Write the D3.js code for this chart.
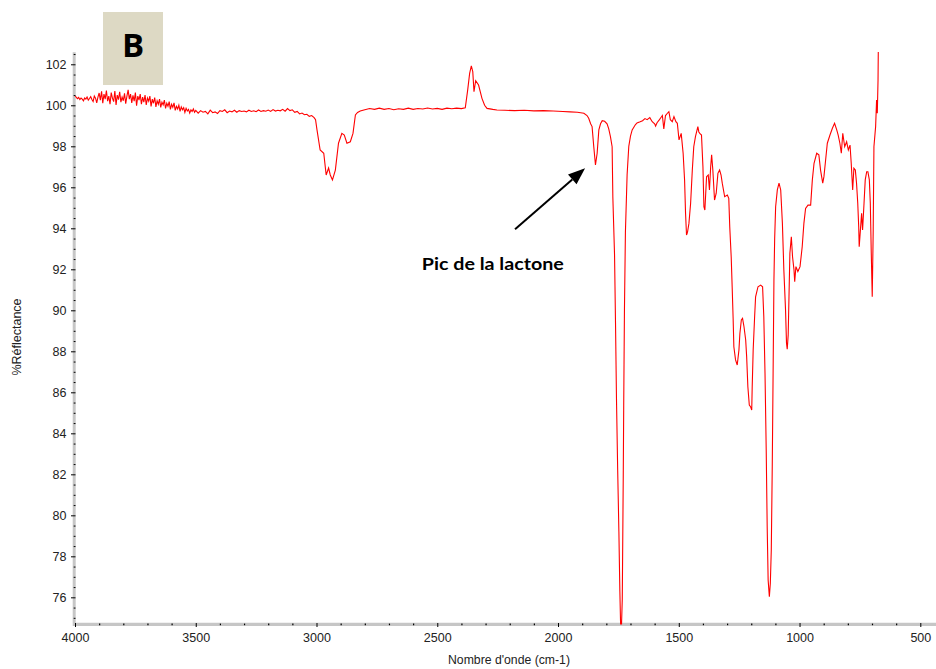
<!DOCTYPE html>
<html><head><meta charset="utf-8">
<script src="https://cdn.jsdelivr.net/npm/d3@7"></script>
<style>body{margin:0;background:#fff}svg{display:block}</style>
</head><body>
<svg id="chart" width="936" height="669"></svg>
<script>
// ---- DATA ----
const xMajorTicks = [4000, 3500, 3000, 2500, 2000, 1500, 1000, 500];
const yMajorTicks = [76, 78, 80, 82, 84, 86, 88, 90, 92, 94, 96, 98, 100, 102];

// [wavenumber (cm-1), %Réflectance]
const noisyRegion = [
  [4000,100.45],[3995,100.40],[3990,100.32],[3985,100.38],[3980,100.28],[3975,100.35],
  [3970,100.30],[3965,100.22],[3960,100.36],[3955,100.30],[3950,100.40],[3945,100.25],
  [3940,100.33],[3935,100.42],[3930,100.28],[3925,100.18],[3920,100.45],[3915,100.35],
  [3910,100.12],[3905,100.40],[3900,100.60],[3895,100.25],[3890,100.68],[3885,100.10],
  [3880,100.55],[3875,100.30],[3870,100.72],[3865,100.20],[3860,100.45],[3855,100.05],
  [3850,100.62],[3845,100.35],[3840,100.18],[3835,100.70],[3830,100.02],[3825,100.50],
  [3820,100.28],[3815,100.66],[3810,100.15],[3805,100.40],[3800,100.22],[3795,100.58],
  [3790,100.08],[3785,100.45],[3780,100.75],[3775,100.30],[3770,100.55],[3765,100.12],
  [3760,100.48],[3755,100.20],[3750,100.62],[3745,99.98],[3740,100.45],[3735,100.25],
  [3730,100.55],[3725,100.05],[3720,100.40],[3715,100.15],[3710,100.50],[3705,100.02],
  [3700,100.35],[3695,100.20],[3690,100.45],[3685,99.95],[3680,100.30],[3675,100.10],
  [3670,100.38],[3665,99.92],[3660,100.22],[3655,100.05],[3650,100.30],[3645,99.90],
  [3640,100.15],[3635,100.02],[3630,100.25],[3625,99.85],[3620,100.10],[3615,99.95],
  [3610,100.18],[3605,99.80],[3600,100.05],[3595,99.90],[3590,100.12],[3585,99.75],
  [3580,99.95],[3575,99.82],[3570,100.00],[3565,99.70],[3560,99.92],[3555,99.78],
  [3550,99.88],[3545,99.65],[3540,99.85],[3535,99.72],[3530,99.80],[3525,99.62],
  [3520,99.78],[3515,99.70],[3510,99.82],[3505,99.66],[3500,99.75],
  [3490,99.62],[3480,99.74],[3470,99.66],[3460,99.70],[3450,99.58],[3440,99.76],
  [3430,99.64],[3420,99.68],[3410,99.60],[3400,99.74],[3390,99.70],[3380,99.78],
  [3370,99.64],[3360,99.72],[3350,99.68],[3340,99.76],[3330,99.66],[3320,99.74],
  [3310,99.70],[3300,99.72],[3290,99.68],[3280,99.76],[3270,99.70],[3260,99.73],
  [3250,99.69],[3240,99.77],[3230,99.70],[3220,99.74],[3210,99.71],[3200,99.77],
  [3190,99.70],[3180,99.79],[3170,99.72],[3160,99.76],[3150,99.73],[3140,99.80],
  [3130,99.71],[3120,99.84],[3110,99.74],[3100,99.78],[3090,99.66],[3080,99.70],
  [3070,99.58],[3060,99.62],[3050,99.54],[3040,99.56],[3030,99.46],[3020,99.50],
  [3010,99.40]
];
const chRegion = [
  [3004,99.30],[2998,98.80],[2985,97.82],[2970,97.66],[2960,96.60],[2950,96.94],
  [2943,96.60],[2934,96.36],[2922,96.84],[2909,98.15],[2895,98.63],[2885,98.55],
  [2874,98.15],[2860,98.22],[2849,98.63],[2839,99.53],[2830,99.65],[2819,99.72]
];
const co2Region = [
  [2800,99.78],[2780,99.84],[2760,99.80],[2740,99.86],[2720,99.80],[2700,99.84],
  [2680,99.78],[2660,99.83],[2640,99.80],[2620,99.86],[2600,99.80],[2580,99.84],
  [2560,99.82],[2540,99.87],[2520,99.82],[2500,99.85],[2480,99.80],[2460,99.86],
  [2440,99.83],[2420,99.86],[2400,99.84],[2384,99.88],[2374,100.75],[2366,101.56],
  [2359,101.92],[2353,101.64],[2348,100.66],[2341,101.20],[2329,100.99],[2315,100.34],
  [2304,100.00],[2294,99.85],[2270,99.80],[2253,99.77],[2220,99.76],[2180,99.74],
  [2140,99.76],[2100,99.73],[2060,99.74],[2020,99.72],[1980,99.70],[1950,99.68],
  [1920,99.66],[1893,99.61]
];
const carbonylRegion = [
  [1880,99.50],[1873,99.37],[1865,99.10],[1859,98.96],[1852,97.98],[1845,97.09],
  [1838,97.66],[1831,98.80],[1824,99.10],[1817,99.25],[1807,99.22],[1797,99.10],
  [1790,98.85],[1783,98.47],[1776,97.98],[1773,95.50],[1766,92.70],[1762,89.40],
  [1758,85.70],[1753,82.20],[1748,79.20],[1744,76.30],[1741,74.70],[1737,74.70],
  [1734,75.90],[1730,81.80],[1728,85.40],[1725,90.00],[1721,93.80],[1714,96.60],
  [1707,98.00],[1700,98.50],[1693,98.80],[1680,99.05],[1673,99.14],[1660,99.20],
  [1650,99.25],[1640,99.35],[1631,99.30],[1620,99.40],[1610,99.20],[1600,99.10],
  [1596,98.99],[1590,99.15],[1580,99.30],[1576,99.37],[1568,99.50],[1562,98.85],
  [1555,99.50],[1548,99.60],[1541,99.69],[1535,99.30],[1527,99.20],[1520,99.45],
  [1512,99.20],[1506,99.12]
];
const fingerprintRegion = [
  [1499,98.31],[1490,98.63],[1482,97.66],[1476,96.36],[1472,94.73],[1468,93.67],
  [1464,93.80],[1458,94.24],[1451,95.22],[1444,96.84],[1438,97.98],[1431,98.47],
  [1421,98.96],[1417,98.70],[1413,98.63],[1406,98.55],[1400,97.00],[1396,95.05],
  [1392,94.89],[1385,96.52],[1378,96.60],[1373,95.87],[1368,97.00],[1364,97.58],
  [1359,96.84],[1352,95.38],[1345,95.71],[1338,96.68],[1331,96.84],[1325,96.60],
  [1320,96.20],[1310,95.54],[1299,95.62],[1293,95.46],[1289,94.08],[1283,92.61],
  [1279,91.15],[1275,89.60],[1272,88.22],[1265,87.58],[1258,87.33],[1251,88.06],
  [1247,88.87],[1241,89.53],[1236,89.61],[1230,89.20],[1223,88.55],[1219,87.74],
  [1214,86.27],[1208,85.38],[1203,85.30],[1198,85.14],[1196,86.27],[1192,88.06],
  [1186,89.69],[1182,90.66],[1172,91.15],[1161,91.23],[1153,91.15],[1148,89.69],
  [1143,86.93],[1138,83.19],[1134,79.45],[1130,76.84],[1125,76.03],[1121,76.68],
  [1117,78.31],[1113,82.37],[1109,87.58],[1106,91.50],[1103,93.50],[1099,95.05],
  [1092,95.87],[1085,96.20],[1078,95.87],[1071,94.24],[1065,91.97],[1058,90.02],
  [1054,88.40],[1051,88.10],[1047,88.80],[1044,90.50],[1040,92.78],[1034,93.59],
  [1029,92.61],[1023,91.97],[1020,91.40],[1015,92.13],[1007,91.89],[998,92.13],
  [989,93.10],[982,94.24],[975,94.97],[965,95.13],[954,95.13],[947,96.36],
  [940,97.17],[929,97.66],[920,97.58],[913,96.84],[904,96.20],[899,96.52],
  [892,97.33],[885,98.15],[874,98.55],[864,98.88],[855,99.12],[846,98.80],
  [840,98.55],[833,98.15],[827,97.66],[821,98.63],[813,97.98],[805,98.22],
  [798,97.82],[791,98.06],[786,97.17],[780,95.87],[775,96.93],[769,96.84],
  [764,96.20],[759,95.22],[755,94.08],[753,93.10],[747,94.08],[743,94.73],
  [739,93.92],[733,95.22],[728,96.36],[722,96.76],[717,96.76],[711,96.36],
  [707,95.22],[703,92.78],[699,90.66],[695,93.92],[692,97.98],[685,98.96],
  [681,100.26],[678,99.61],[675,101.23],[674,102.60]
];
const spectrum = [].concat(noisyRegion, chRegion, co2Region, carbonylRegion, fingerprintRegion);

const annotation = { text: "Pic de la lactone", textWn: 2564, textR: 91.97,
                     fromWn: 2178, fromR: 93.95, toWn: 1888, toR: 96.93 };
const panelLabel = "B";
const xTitle = "Nombre d'onde (cm-1)";
const yTitle = "%Réflectance";

// ---- CHART ----
const svg = d3.select("#chart");
const x = d3.scaleLinear().domain([4000, 435]).range([75, 936]);
const y = d3.scaleLinear().domain([74.65, 102.585]).range([625, 52.3]);

const xMinor = d3.range(4000, 435, -100).filter(v => v % 500 !== 0);
const yMinor = d3.range(75, 102.6, 0.5).filter(v => v % 2 !== 0);

// gray axis bands
svg.append("line").attr("x1", 74.2).attr("x2", 74.2).attr("y1", 52.3).attr("y2", 626)
  .attr("stroke", "#c6c6c6").attr("stroke-width", 3);
svg.append("line").attr("x1", 73).attr("x2", 936).attr("y1", 624.4).attr("y2", 624.4)
  .attr("stroke", "#c6c6c6").attr("stroke-width", 3.2);

const tickFont = "Liberation Sans, Arial, sans-serif";

// y axis
const gy = svg.append("g").attr("transform", "translate(75.5,0)")
  .call(d3.axisLeft(y).tickValues(yMajorTicks).tickSizeInner(4.5).tickSizeOuter(0).tickPadding(4.5).tickFormat(d3.format("d")));
gy.select(".domain").remove();
gy.selectAll("line").attr("stroke", "#000").attr("stroke-width", 1);
gy.selectAll("text").attr("font-family", tickFont).attr("font-size", 12.5).attr("fill", "#222");
const gym = svg.append("g").attr("transform", "translate(75.5,0)")
  .call(d3.axisLeft(y).tickValues(yMinor).tickSize(1.8).tickFormat(""));
gym.select(".domain").remove();
gym.selectAll("line").attr("stroke", "#000").attr("stroke-width", 1);

// x axis
const gx = svg.append("g").attr("transform", "translate(0,623)")
  .call(d3.axisBottom(x).tickValues(xMajorTicks).tickSizeInner(4).tickSizeOuter(0).tickPadding(6).tickFormat(d3.format("d")));
gx.select(".domain").remove();
gx.selectAll("line").attr("stroke", "#000").attr("stroke-width", 1);
gx.selectAll("text").attr("font-family", tickFont).attr("font-size", 12.5).attr("fill", "#222");
const gxm = svg.append("g").attr("transform", "translate(0,623.6)")
  .call(d3.axisBottom(x).tickValues(xMinor).tickSize(1.6).tickFormat(""));
gxm.select(".domain").remove();
gxm.selectAll("line").attr("stroke", "#000").attr("stroke-width", 1.2);

// axis titles
svg.append("text").attr("x", 509).attr("y", 664).attr("text-anchor", "middle")
  .attr("font-family", tickFont).attr("font-size", 12.5).attr("fill", "#222")
  .attr("textLength", 122).attr("lengthAdjust", "spacingAndGlyphs").text(xTitle);
svg.append("text").attr("transform", "translate(21,337) rotate(-90)").attr("text-anchor", "middle")
  .attr("font-family", tickFont).attr("font-size", 12.5).attr("fill", "#222").text(yTitle);

// spectrum
svg.append("path").datum(spectrum)
  .attr("d", d3.line().x(d => x(d[0])).y(d => y(d[1])))
  .attr("fill", "none").attr("stroke", "#ff0000").attr("stroke-width", 1.1)
  .attr("stroke-linejoin", "miter");

// panel label
svg.append("rect").attr("x", 103).attr("y", 12).attr("width", 60).attr("height", 73).attr("fill", "#ddd9c4");
svg.append("text").attr("x", 133).attr("y", 57).attr("text-anchor", "middle")
  .attr("font-family", "Open Sans, Lato, sans-serif").attr("font-weight", "bold").attr("font-size", 33)
  .attr("fill", "#000").text(panelLabel);

// annotation arrow
const ax1 = x(annotation.fromWn), ay1 = y(annotation.fromR);
const ax2 = x(annotation.toWn), ay2 = y(annotation.toR);
const ang = Math.atan2(ay2 - ay1, ax2 - ax1);
const hl = 17, hw = 6.5;
const bx = ax2 - hl * Math.cos(ang), by = ay2 - hl * Math.sin(ang);
svg.append("line").attr("x1", ax1).attr("y1", ay1).attr("x2", bx).attr("y2", by)
  .attr("stroke", "#000").attr("stroke-width", 2);
svg.append("polygon").attr("points", [
  [ax2, ay2],
  [bx + hw * Math.sin(ang), by - hw * Math.cos(ang)],
  [bx - hw * Math.sin(ang), by + hw * Math.cos(ang)]
].map(p => p.join(",")).join(" ")).attr("fill", "#000");
svg.append("text").attr("x", x(annotation.textWn)).attr("y", y(annotation.textR))
  .attr("font-family", "Lato, Open Sans, sans-serif").attr("font-weight", "bold").attr("font-size", 17.5)
  .attr("fill", "#000").attr("textLength", 142).attr("lengthAdjust", "spacingAndGlyphs").text(annotation.text);
</script>
</body></html>
